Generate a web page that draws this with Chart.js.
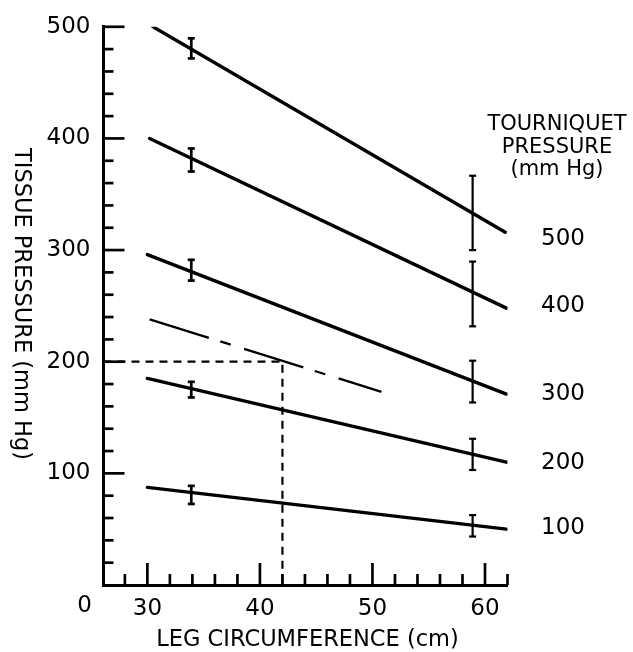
<!DOCTYPE html>
<html><head><meta charset="utf-8">
<script src="https://cdn.jsdelivr.net/npm/chart.js@4/dist/chart.umd.min.js"></script>
<style>html,body{margin:0;padding:0;background:#fff}canvas{display:block}</style>
</head><body>
<canvas id="c" width="633" height="652"></canvas>
<script>
// ---- data ----
const xTickValues = [30, 40, 50, 60];
const xTickLabels = ['30', '40', '50', '60'];
const xMinorTicks = [28, 32, 34, 36, 38, 42, 44, 46, 48, 52, 54, 56, 58, 62];
const yTickValues = [100, 200, 300, 400, 500];
const yTickLabels = ['100', '200', '300', '400', '500'];
const yMinorTicks = [20, 40, 60, 80, 120, 140, 160, 180, 220, 240, 260, 280, 320, 340, 360, 380, 420, 440, 460, 480];
const originLabel = '0';

const tourniquetPressures = ['500', '400', '300', '200', '100'];
const lineStartX = [30.5, 30.2, 30.0, 30.0, 30.0];
const lineStartY = [500, 400, 296, 185, 87.4];
const lineEndX = [61.8, 61.9, 61.9, 61.9, 61.9];
const lineEndY = [316, 248, 171, 110, 50];

const errLeftX = 33.9;
const errLeftMean = [480.7, 380.7, 282, 175, 80.7];
const errLeftHalf = [9, 10.3, 9.3, 7, 8.1];
const errRightX = 58.9;
const errRightMean = [333.3, 260.7, 182.2, 117, 53];
const errRightHalf = [33.3, 29, 18.7, 14, 9.6];

const dashDotX = [30.2, 50.8];
const dashDotY = [238, 173];
const refX = [26.1, 42, 42];
const refY = [200, 200, 0];

const pressureLabelAt = [310, 250, 171, 109, 51];
const legendTitle = ['TOURNIQUET', 'PRESSURE', '(mm Hg)'];
const xTitle = 'LEG CIRCUMFERENCE (cm)';
const yTitle = 'TISSUE PRESSURE (mm Hg)';

const X_MIN = 26.1, X_MAX = 62, Y_MIN = 0, Y_MAX = 500;
const FONT = '"DejaVu Sans", sans-serif';

// ---- datasets ----
const datasets = tourniquetPressures.map((p, i) => ({
  label: p + ' mm Hg',
  data: [{x: lineStartX[i], y: lineStartY[i]}, {x: lineEndX[i], y: lineEndY[i]}],
  showLine: true, borderColor: '#000', borderWidth: 3.4, pointRadius: 0, borderCapStyle: 'round'
}));
datasets.push({
  label: 'dash-dot',
  data: dashDotX.map((x, i) => ({x, y: dashDotY[i]})),
  showLine: true, borderColor: '#000', borderWidth: 2.3, pointRadius: 0, borderDash: [62, 12, 11, 14]
});
datasets.push({
  label: 'reference',
  data: refX.map((x, i) => ({x, y: refY[i]})),
  showLine: true, borderColor: '#000', borderWidth: 2.2, pointRadius: 0, borderDash: [8, 6]
});

const decor = {
  id: 'decor',
  afterDatasetsDraw(chart) {
    const ctx = chart.ctx, xs = chart.scales.x, ys = chart.scales.y;
    const x0 = xs.getPixelForValue(X_MIN), y0 = ys.getPixelForValue(Y_MIN);
    ctx.save();
    ctx.strokeStyle = '#000'; ctx.fillStyle = '#000'; ctx.lineCap = 'butt';
    // inward ticks
    ctx.lineWidth = 2.7;
    const tick = (x1, y1, x2, y2) => { ctx.beginPath(); ctx.moveTo(x1, y1); ctx.lineTo(x2, y2); ctx.stroke(); };
    yTickValues.forEach(v => { const y = ys.getPixelForValue(v); tick(x0, y, x0 + 21, y); });
    yMinorTicks.forEach(v => { const y = ys.getPixelForValue(v); tick(x0, y, x0 + 10, y); });
    xTickValues.forEach(v => { const x = xs.getPixelForValue(v); tick(x, y0, x, y0 - 22); });
    xMinorTicks.forEach(v => { const x = xs.getPixelForValue(v); tick(x, y0, x, y0 - 11); });
    // error bars
    const bar = (xv, m, h, w) => {
      const x = xs.getPixelForValue(xv), yt = ys.getPixelForValue(m + h), yb = ys.getPixelForValue(m - h);
      ctx.lineWidth = w;
      tick(x, yt, x, yb);
      tick(x - 3.5, yt, x + 3.5, yt);
      tick(x - 3.5, yb, x + 3.5, yb);
    };
    errLeftMean.forEach((m, i) => bar(errLeftX, m, errLeftHalf[i], 2.7));
    errRightMean.forEach((m, i) => bar(errRightX, m, errRightHalf[i], 2.2));
    // texts
    ctx.textAlign = 'center'; ctx.textBaseline = 'middle';
    ctx.font = '23px ' + FONT;
    ctx.fillText(originLabel, x0 - 19, y0 + 21);
    tourniquetPressures.forEach((p, i) => ctx.fillText(p, 563, ys.getPixelForValue(pressureLabelAt[i])));
    ctx.font = '21px ' + FONT;
    legendTitle.forEach((t, i) => ctx.fillText(t, 557, 125 + i * 22.5));
    ctx.font = '22.5px ' + FONT;
    ctx.fillText(xTitle, (x0 + xs.getPixelForValue(X_MAX)) / 2 + 2, 640);
    ctx.translate(21, 304);
    ctx.rotate(Math.PI / 2);
    ctx.fillText(yTitle, 0, 0);
    ctx.restore();
  }
};

new Chart(document.getElementById('c'), {
  type: 'scatter',
  data: {datasets},
  plugins: [decor],
  options: {
    responsive: false, animation: false, devicePixelRatio: 1,
    layout: {padding: {left: 0, right: 125.5, top: 22.5, bottom: 0}},
    plugins: {legend: {display: false}, tooltip: {enabled: false}},
    scales: {
      x: {
        type: 'linear', min: X_MIN, max: X_MAX,
        grid: {display: false, drawTicks: false},
        border: {display: true, width: 3, color: '#000'},
        ticks: {color: '#000', font: {family: FONT, size: 23}, padding: 10, maxRotation: 0,
          callback: v => xTickLabels[xTickValues.indexOf(v)] ?? ''},
        afterBuildTicks: s => { s.ticks = xTickValues.map(v => ({value: v})); },
        afterFit: s => { s.height = 67; }
      },
      y: {
        type: 'linear', min: Y_MIN, max: Y_MAX,
        grid: {display: false, drawTicks: false},
        border: {display: true, width: 3, color: '#000'},
        ticks: {color: '#000', font: {family: FONT, size: 23}, padding: 13,
          callback: v => yTickLabels[yTickValues.indexOf(v)] ?? ''},
        afterBuildTicks: s => { s.ticks = yTickValues.map(v => ({value: v})); },
        afterFit: s => { s.width = 103.5; }
      }
    }
  }
});
</script>
</body></html>
